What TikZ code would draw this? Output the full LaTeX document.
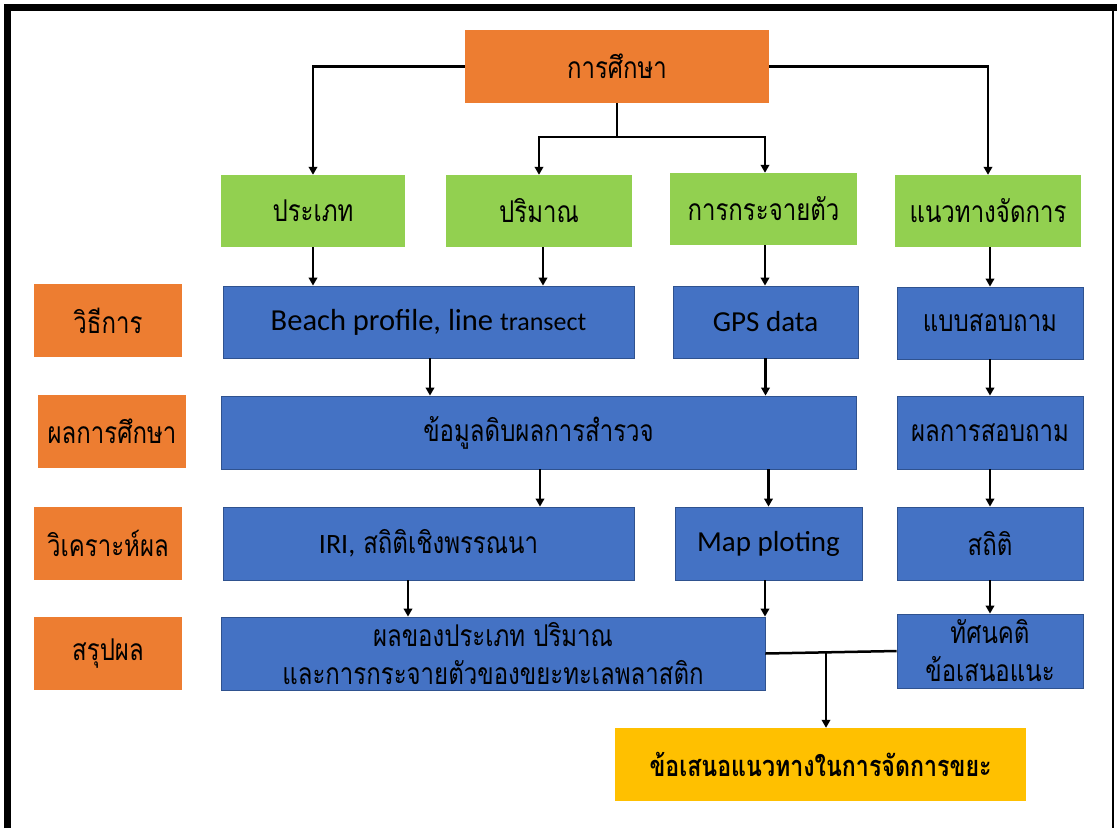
\documentclass[tikz,border=0pt]{standalone}
\usepackage{fontspec}
\setmainfont{Carlito}
\newfontfamily\thai[Script=Thai,FakeStretch=0.8]{Loma}
\usetikzlibrary{arrows.meta,calc}
\definecolor{orangeA}{HTML}{ED7D31}
\definecolor{greenA}{HTML}{92D050}
\definecolor{blueA}{HTML}{4472C4}
\definecolor{blueB}{HTML}{2F528F}
\definecolor{yellowA}{HTML}{FFC000}
\tikzset{
  basebox/.style={rectangle, inner sep=0pt, text=black, align=center},
  orangebox/.style={basebox, fill=orangeA, font=\thai\fontsize{30}{34}\selectfont},
  greenbox/.style={basebox, fill=greenA, font=\thai\fontsize{30}{34}\selectfont},
  bluebox/.style={basebox, fill=blueA, draw=blueB, line width=0.8pt, font=\thai\fontsize{30}{38}\selectfont},
  yellowbox/.style={basebox, fill=yellowA, font=\thai\bfseries\fontsize{29}{34}\selectfont},
  latin/.style={font=\fontsize{29}{34}\selectfont},
  conn/.style={draw=black, line width=2.5pt},
  arr/.style={conn, -{Triangle[length=8pt,width=8.5pt]}}
}
\begin{document}
\begin{tikzpicture}[x=1pt,y=-1pt]
\useasboundingbox (0,0) rectangle (1117,828);
% frame
\draw[line width=7pt] (7.5,828) -- (7.5,7.5) -- (1117,7.5);
\draw[line width=1.5pt] (1113,7.5) -- (1113,828);

% top
\node[orangebox, minimum width=304pt, minimum height=73pt] (study) at (617,66.5) {การศึกษา};
% green row
\node[greenbox, minimum width=184pt, minimum height=72pt] (g1) at (313,211) {ประเภท};
\node[greenbox, minimum width=186pt, minimum height=72pt] (g2) at (539,211) {ปริมาณ};
\node[greenbox, minimum width=187pt, minimum height=72pt] (g3) at (763.5,209) {การกระจายตัว};
\node[greenbox, minimum width=186pt, minimum height=72pt] (g4) at (988,211) {แนวทางจัดการ};
% left labels
\node[orangebox, minimum width=148pt, minimum height=73pt] (l1) at (108,320.5) {วิธีการ};
\node[orangebox, minimum width=148pt, minimum height=73pt] (l2) at (112,431.5) {ผลการศึกษา};
\node[orangebox, minimum width=148pt, minimum height=73pt] (l3) at (108,543.5) {วิเคราะห์ผล};
\node[orangebox, minimum width=148pt, minimum height=73pt] (l4) at (108,653.5) {สรุปผล};
% row 1
\node[bluebox, minimum width=411pt, minimum height=72pt] (b11) at (428.5,322)
  {\normalfont\fontsize{30.5}{34}\selectfont Beach profile, line {\fontsize{26}{30}\selectfont transect}};
\node[bluebox, latin, minimum width=185pt, minimum height=72pt] (b12) at (765.5,322) {GPS data};
\node[bluebox, minimum width=186pt, minimum height=72pt] (b13) at (990,323) {แบบสอบถาม};
% row 2
\node[bluebox, minimum width=635pt, minimum height=73pt] (b21) at (538.5,432.5) {ข้อมูลดิบผลการสำรวจ};
\node[bluebox, minimum width=186pt, minimum height=73pt] (b23) at (990,432.5) {ผลการสอบถาม};
% row 3
\node[bluebox, minimum width=411pt, minimum height=73pt] (b31) at (428.5,543.5)
  {{\normalfont\fontsize{28}{34}\selectfont IRI,} สถิติเชิงพรรณนา};
\node[bluebox, latin, minimum width=187pt, minimum height=73pt] (b32) at (768.5,543.5) {Map ploting};
\node[bluebox, minimum width=186pt, minimum height=73pt] (b33) at (990,543.5) {สถิติ};
% row 4
\node[bluebox, minimum width=544pt, minimum height=73pt] (b41) at (493,653.5)
  {ผลของประเภท ปริมาณ\\และการกระจายตัวของขยะทะเลพลาสติก};
\node[bluebox, minimum width=186pt, minimum height=74pt] (b43) at (990,651) {ทัศนคติ\\ข้อเสนอแนะ};
% final
\node[yellowbox, minimum width=411pt, minimum height=73pt] (final) at (820.5,764.5) {ข้อเสนอแนวทางในการจัดการขยะ};

% connectors from top
\draw[arr] (study.west) -| (g1.north);
\draw[arr] (study.east) -| (g4.north);
\draw[conn] (study.south) -- ++(0,34) coordinate (j1);
\draw[arr] (j1) -| (g2.north);
\draw[arr] (j1) -| ([xshift=1.5pt]g3.north);
% green to row 1
\draw[arr] (g1.south) -- (g1.south |- b11.north);
\draw[arr] ([xshift=4pt]g2.south) -- ([xshift=4pt]g2.south |- b11.north);
\draw[arr] ([xshift=1.5pt]g3.south) -- ([xshift=1.5pt]g3.south |- b12.north);
\draw[arr] ([xshift=2pt]g4.south) -- ([xshift=2pt]g4.south |- b13.north);
% row 1 to row 2
\draw[arr] ([xshift=1.5pt]b11.south) -- ([xshift=1.5pt]b11.south |- b21.north);
\draw[arr] (b12.south) -- (b12.south |- b21.north);
\draw[arr] (b13.south) -- (b13.south |- b23.north);
% row 2 to row 3
\draw[arr] ([xshift=1.5pt]b21.south) -- ([xshift=1.5pt]b21.south |- b31.north);
\draw[arr] (b32.north |- b21.south) -- (b32.north);
\draw[arr] (b23.south) -- (b23.south |- b33.north);
% row 3 to row 4
\draw[arr] ([xshift=-20.5pt]b31.south) -- ([xshift=-20.5pt]b31.south |- b41.north);
\draw[arr] ([xshift=-3.5pt]b32.south) -- ([xshift=-3.5pt]b32.south |- b41.north);
\draw[arr] (b33.south) -- (b33.south |- b43.north);
% merge to final
\draw[conn] (b41.east) -- (b43.west);
\coordinate (m) at ($(b41.east)!0.462!(b43.west)$);
\draw[arr] (m) -- (m |- final.north);
\end{tikzpicture}
\end{document}
